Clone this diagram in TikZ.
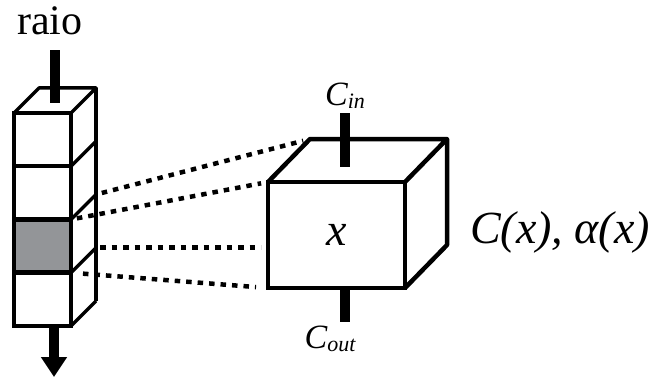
\documentclass[tikz,border=0pt]{standalone}
\usepackage{fontspec}
\setmainfont{Liberation Serif}
\definecolor{cellgray}{HTML}{939598}
\usetikzlibrary{arrows.meta,positioning,calc}
\newcommand{\lowsub}[1]{\raisebox{-0.08em}{\fontsize{22}{22}\selectfont #1}}

\begin{document}
\begin{tikzpicture}[x=1pt, y=1pt,
  cell/.style={draw, line width=4.5pt, minimum width=57pt, minimum height=53.25pt,
    inner sep=0pt, outer sep=0pt},
  edge3d/.style={line width=3.5pt, line join=round},
  box/.style={draw, line width=4.5pt, minimum width=137pt, minimum height=106pt,
    inner sep=0pt, outer sep=0pt, font=\fontsize{46}{46}\selectfont\itshape},
  ray/.style={line width=4.5pt, dash pattern=on 5.5pt off 6pt,
    shorten <=6pt, shorten >=7pt},
  stub/.style={line width=10pt},
  flow/.style={line width=10pt, -{Triangle[width=25pt,length=20pt]}},
]
  \useasboundingbox (0,0) rectangle (654,-380);

  \node[font=\fontsize{42}{42}\selectfont] (raio) at (50,-21) {raio};
  \node[cell] (c1) at (42.5,-139.6) {};
  \node[cell, below=0pt of c1] (c2) {};
  \node[cell, fill=cellgray, below=0pt of c2] (c3) {};
  \node[cell, below=0pt of c3] (c4) {};

  \draw[edge3d] (c1.north west) -- ++(25,25) -- ($(c1.north east)+(25,25)$)
    -- (c1.north east);
  \foreach \c in {c1,c2,c3,c4}
    \draw[edge3d] (\c.south east) -- ++(25,25);
  \draw[edge3d] ($(c1.north east)+(25,25)$) -- ($(c4.south east)+(25,25)$);

  \coordinate (intop) at (55,-50);
  \coordinate (inend) at (55,-103);
  \coordinate (outend) at (54,-377);
  \draw[stub] (intop) -- (inend);
  \draw[flow] (c4.south -| outend) -- (outend);

  \node[box] (xbox) at (336.5,-235) {x};
  \draw[line width=4.5pt, line join=round] (xbox.north west) -- ++(42,43)
    -- ($(xbox.north east)+(42,43)$) -- (xbox.north east);
  \draw[line width=4.5pt, line join=round] ($(xbox.north east)+(42,43)$)
    -- ($(xbox.south east)+(42,43)$) -- (xbox.south east);

  \coordinate (c3b) at ($(c3.south east)+(25,25)$);
  \draw[ray] ($(c3.north east)+(25,25)$) -- ($(xbox.north west)+(42,43)$);
  \draw[ray] (c3.north east) -- (xbox.north west);
  \draw[ray, shorten <=4pt] (c3b) -- (c3b -| xbox.west);
  \draw[ray, shorten <=12pt, shorten >=12pt] (c3.south east) -- (xbox.south west);

  \node[font=\fontsize{34}{34}\selectfont\itshape] (cin) at (345,-96) {C\lowsub{in}};
  \coordinate (cintop) at (345,-113);
  \coordinate (cinend) at (345,-167);
  \coordinate (coutend) at (345,-322);
  \draw[stub] (cintop) -- (cinend);
  \draw[stub] (xbox.south -| coutend) -- (coutend);
  \node[font=\fontsize{34}{34}\selectfont\itshape] (cout) at (330,-339) {C\lowsub{out}};

  \node[font=\fontsize{46}{46}\selectfont\itshape] (cost) at (560,-232) {C(x), α(x)};
\end{tikzpicture}
\end{document}
